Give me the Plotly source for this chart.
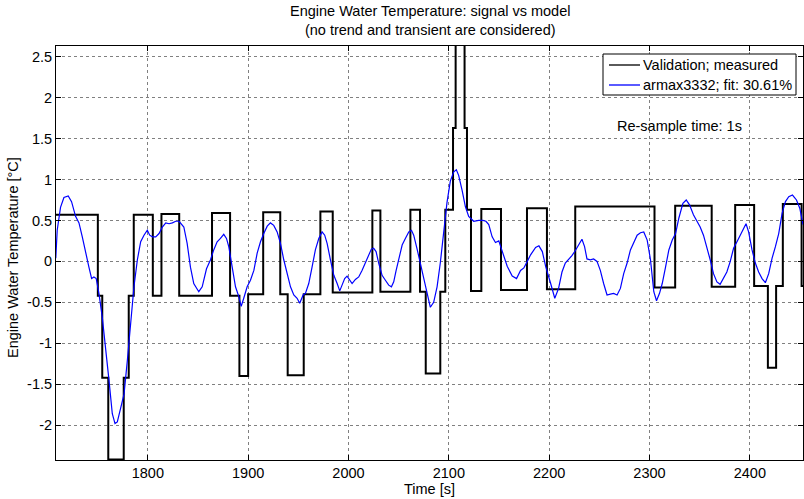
import plotly.graph_objects as go

# Measured (validation) signal: step start times and levels
meas_t = [1708.5, 1750.2, 1754.6, 1760.6, 1776.0, 1781.0, 1786.0, 1805.0, 1813.6, 1831.3,
          1864.0, 1882.0, 1891.3, 1900.0, 1915.0, 1932.0, 1939.4, 1955.4, 1972.0, 1984.3,
          2023.8, 2031.8, 2061.7, 2071.3, 2077.0, 2091.5, 2096.5, 2104.2, 2106.8, 2115.7,
          2118.1, 2122.1, 2132.4, 2152.0, 2177.9, 2197.8, 2226.0, 2305.0, 2325.6, 2362.0,
          2385.4, 2404.3, 2418.0, 2426.2, 2432.9, 2451.6, 2453.0]
meas_v = [0.57, -0.42, -1.42, -2.42, -1.42, -0.42, 0.57, -0.42, 0.58, -0.42,
          0.59, -0.42, -1.40, -0.40, 0.60, -0.40, -1.39, -0.40, 0.61, -0.38,
          0.62, -0.37, 0.63, -0.37, -1.37, -0.37, 0.63, 1.63, 3.63, 1.63,
          0.63, -0.36, 0.64, -0.35, 0.65, -0.34, 0.67, -0.32, 0.68, -0.31,
          0.69, -0.30, -1.30, -0.30, 0.70, -0.30, -0.30]

# Model output (armax3332)
model_t = [1708.3, 1709.7, 1713.0, 1716.4, 1720.7, 1724.0, 1728.0, 1731.4, 1734.7, 1738.0,
           1741.3, 1744.0, 1746.3, 1748.6, 1751.3, 1754.6, 1758.0, 1761.3, 1764.6, 1767.3,
           1769.6, 1772.9, 1776.3, 1779.6, 1782.9, 1786.2, 1789.6, 1792.9, 1796.2, 1799.5,
           1801.9, 1804.6, 1807.9, 1811.2, 1814.5, 1817.9, 1821.2, 1824.5, 1827.8, 1831.2,
           1835.9, 1839.2, 1842.5, 1845.8, 1850.8, 1854.2, 1858.5, 1862.5, 1865.7, 1869.1,
           1872.4, 1875.7, 1878.4, 1880.7, 1884.1, 1887.4, 1890.7, 1893.1, 1895.6, 1899.0,
           1902.3, 1905.7, 1909.0, 1912.3, 1915.6, 1919.0, 1922.2, 1925.5, 1928.9, 1932.2,
           1935.5, 1938.8, 1942.2, 1945.5, 1948.8, 1951.4, 1954.8, 1957.1, 1960.4, 1963.7,
           1967.0, 1970.4, 1973.7, 1976.3, 1978.7, 1982.0, 1985.4, 1988.7, 1991.3, 1993.6,
           1996.2, 1998.6, 2000.9, 2003.6, 2006.9, 2010.2, 2013.5, 2016.8, 2020.1, 2022.8,
           2025.1, 2027.5, 2030.1, 2033.5, 2036.8, 2040.1, 2042.8, 2045.1, 2047.5, 2050.1,
           2053.5, 2056.7, 2060.1, 2062.8, 2065.0, 2068.4, 2071.6, 2075.0, 2078.3, 2081.6,
           2084.9, 2088.3, 2091.5, 2094.9, 2098.2, 2101.5, 2104.8, 2107.5, 2109.8, 2113.2,
           2116.5, 2119.8, 2124.8, 2129.8, 2134.0, 2137.0, 2139.8, 2143.2, 2146.5, 2149.8,
           2153.2, 2158.2, 2163.2, 2167.5, 2171.5, 2174.8, 2178.2, 2181.5, 2186.5, 2189.8,
           2193.2, 2196.5, 2201.5, 2205.6, 2209.4, 2212.8, 2216.1, 2219.4, 2222.7, 2226.0,
           2229.3, 2232.7, 2235.3, 2237.7, 2241.0, 2244.3, 2247.7, 2251.0, 2254.3, 2257.7,
           2261.0, 2264.3, 2267.7, 2271.0, 2274.3, 2277.7, 2281.0, 2284.3, 2287.7, 2291.0,
           2294.3, 2297.7, 2301.0, 2304.3, 2307.0, 2310.0, 2312.7, 2316.0, 2319.3, 2322.7,
           2326.0, 2329.3, 2331.5, 2333.3, 2336.6, 2339.9, 2343.8, 2347.2, 2350.5, 2353.8,
           2357.2, 2360.5, 2363.8, 2367.2, 2370.4, 2373.8, 2377.1, 2380.5, 2383.8, 2387.2,
           2390.5, 2393.8, 2396.2, 2398.8, 2402.2, 2405.5, 2408.8, 2412.2, 2415.5, 2418.8,
           2422.2, 2425.5, 2428.8, 2432.2, 2435.5, 2438.8, 2442.5, 2446.5, 2449.8, 2453.0]
model_v = [0.04, 0.38, 0.66, 0.78, 0.80, 0.73, 0.55, 0.47, 0.30, 0.10,
           -0.07, -0.21, -0.19, -0.21, -0.39, -0.68, -1.04, -1.45, -1.86, -1.98,
           -1.96, -1.78, -1.62, -1.21, -0.72, -0.31, 0.02, 0.24, 0.32, 0.38,
           0.32, 0.30, 0.30, 0.34, 0.42, 0.47, 0.46, 0.47, 0.49, 0.49,
           0.42, 0.22, -0.07, -0.27, -0.37, -0.31, -0.09, 0.02, 0.14, 0.24,
           0.28, 0.33, 0.28, 0.18, -0.07, -0.31, -0.43, -0.55, -0.45, -0.31,
           -0.23, -0.11, 0.10, 0.24, 0.34, 0.43, 0.47, 0.44, 0.36, 0.22,
           0.02, -0.15, -0.31, -0.41, -0.45, -0.51, -0.41, -0.39, -0.27, -0.07,
           0.14, 0.28, 0.36, 0.32, 0.22, 0.02, -0.17, -0.27, -0.36, -0.29,
           -0.21, -0.18, -0.23, -0.27, -0.22, -0.19, -0.11, -0.02, 0.06, 0.15,
           0.16, 0.12, -0.02, -0.17, -0.23, -0.29, -0.31, -0.25, -0.11, 0.04,
           0.20, 0.28, 0.36, 0.38, 0.32, 0.15, -0.03, -0.20, -0.39, -0.56,
           -0.50, -0.31, -0.02, 0.35, 0.72, 0.98, 1.09, 1.12, 1.05, 0.87,
           0.67, 0.55, 0.49, 0.50, 0.50, 0.49, 0.45, 0.30, 0.23, 0.25,
           0.13, -0.06, -0.18, -0.21, -0.11, -0.08, 0.00, 0.08, 0.17, 0.19,
           0.12, -0.06, -0.27, -0.45, -0.33, -0.13, -0.02, 0.02, 0.07, 0.13,
           0.20, 0.27, 0.18, 0.03, 0.02, 0.03, 0.00, -0.11, -0.27, -0.41,
           -0.40, -0.39, -0.41, -0.33, -0.15, -0.02, 0.14, 0.24, 0.32, 0.35,
           0.36, 0.26, 0.02, -0.37, -0.48, -0.39, -0.27, -0.07, 0.14, 0.26,
           0.34, 0.53, 0.62, 0.71, 0.75, 0.69, 0.57, 0.49, 0.42, 0.32,
           0.18, 0.02, -0.15, -0.25, -0.28, -0.21, -0.13, 0.00, 0.16, 0.24,
           0.32, 0.42, 0.46, 0.36, 0.14, -0.02, -0.13, -0.21, -0.26, -0.15,
           0.04, 0.18, 0.34, 0.59, 0.73, 0.79, 0.81, 0.75, 0.65, 0.45]

series_names = ["Validation; measured", "armax3332; fit: 30.61%"]
series_colors = ["black", "#0000ff"]

x_ticks = [1800, 1900, 2000, 2100, 2200, 2300, 2400]
y_ticks = [-2, -1.5, -1, -0.5, 0, 0.5, 1, 1.5, 2, 2.5]
y_tick_labels = ["-2", "-1.5", "-1", "-0.5", "0", "0.5", "1", "1.5", "2", "2.5"]

FONT = "Liberation Sans, Arial, Helvetica, sans-serif"
FS = 14.5

W, H = 804, 499
ML, MT, MR, MB = 56, 46, 1, 39
PW = W - ML - MR
PH = H - MT - MB

def px(xpage):
    return (xpage - ML) / PW

def py(ypage):
    return 1 - (ypage - MT) / PH

fig = go.Figure()
fig.add_trace(go.Scatter(x=meas_t, y=meas_v, mode="lines", line_shape="hv",
                         line=dict(color=series_colors[0], width=2),
                         name=series_names[0]))
fig.add_trace(go.Scatter(x=model_t, y=model_v, mode="lines",
                         line=dict(color=series_colors[1], width=1.2),
                         name=series_names[1]))

axis_common = dict(showline=True, linecolor="black", linewidth=1, mirror="ticks",
                   ticks="inside", ticklen=5, tickcolor="black",
                   showgrid=True, gridcolor="#808080", griddash="dot", gridwidth=1,
                   zeroline=False, tickfont=dict(family=FONT, size=FS, color="black"))

fig.update_layout(
    width=W, height=H,
    margin=dict(l=ML, r=MR, t=MT, b=MB),
    paper_bgcolor="white", plot_bgcolor="white",
    font=dict(family=FONT, size=FS, color="black"),
    showlegend=False,
    xaxis=dict(range=[1708.5, 2453.0], tickvals=x_ticks, **axis_common),
    yaxis=dict(range=[-2.425, 2.63], tickvals=y_ticks, ticktext=y_tick_labels, **axis_common),
)

# Legend box (MATLAB style)
fig.add_shape(type="rect", xref="paper", yref="paper", x0=px(603), x1=px(796), y0=py(95), y1=py(54),
              line=dict(color="black", width=1), fillcolor="white", layer="above")
for i, (nm, col) in enumerate(zip(series_names, series_colors)):
    yy = py(65 + 20 * i)
    fig.add_shape(type="line", xref="paper", yref="paper", x0=px(609), x1=px(640), y0=yy, y1=yy,
                  line=dict(color=col, width=1.3), layer="above")
    fig.add_annotation(text=nm, xref="paper", yref="paper", x=px(641), y=yy,
                       xanchor="left", yanchor="middle", showarrow=False,
                       font=dict(family=FONT, size=FS, color="black"))

fig.add_annotation(text="Engine Water Temperature: signal vs model<br>(no trend and transient are considered)",
                   xref="paper", yref="paper", x=0.5, y=1.0, yshift=6, xanchor="center", yanchor="bottom",
                   showarrow=False, font=dict(family=FONT, size=FS, color="black"))
fig.add_annotation(text="Time [s]", xref="paper", yref="paper", x=0.5, y=py(489),
                   xanchor="center", yanchor="middle", showarrow=False,
                   font=dict(family=FONT, size=FS, color="black"))
fig.add_annotation(text="Engine Water Temperature [°C]", xref="paper", yref="paper",
                   x=px(13), y=py(258), xanchor="center", yanchor="middle", textangle=-90,
                   showarrow=False, font=dict(family=FONT, size=FS, color="black"))
fig.add_annotation(text="Re-sample time: 1s", xref="paper", yref="paper",
                   x=px(615), y=py(126), xanchor="left", yanchor="middle",
                   showarrow=False, font=dict(family=FONT, size=FS, color="black"))

fig.write_html("out.html",
               config={"displayModeBar": False},
               post_script="document.body.style.margin='0px';document.body.style.overflow='hidden';")
